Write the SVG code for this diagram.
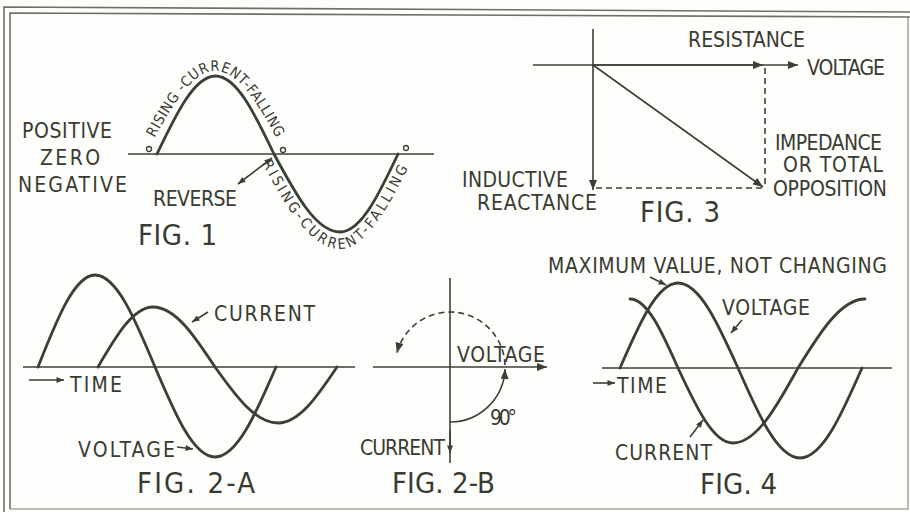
<svg xmlns="http://www.w3.org/2000/svg" width="910" height="512" viewBox="0 0 910 512">
<style>
.ln{stroke:#3c3f35;fill:none;stroke-width:1.6}
.w{stroke:#3c3f35;fill:none;stroke-width:2.8;stroke-linecap:round}
.d{stroke:#3c3f35;fill:none;stroke-width:1.6;stroke-dasharray:6,4}
.fr{stroke:#6e7065;fill:none;stroke-width:1.6}
text{font-family:'DejaVu Sans Condensed','DejaVu Sans',sans-serif;font-stretch:condensed;fill:#383b30;font-size:21px}
.fig{font-size:29px}
.cv{font-size:14.5px}
</style>
<defs>
<marker id="ah" viewBox="0 0 10 8" refX="10" refY="4" markerWidth="11" markerHeight="8" markerUnits="userSpaceOnUse" orient="auto-start-reverse"><path d="M0,0 L10,4 L0,8 Z" fill="#3c3f35"/></marker>
<marker id="as" viewBox="0 0 10 8" refX="10" refY="4" markerWidth="8" markerHeight="6" markerUnits="userSpaceOnUse" orient="auto-start-reverse"><path d="M0,0 L10,4 L0,8 Z" fill="#3c3f35"/></marker>
<path id="tp1" d="M146,154 C168.7,111.5 190.3,71 215.5,71 C240.7,71 262.3,111.5 285,154"/>
<path id="tp2" d="M257,154 C283.7,203 309.3,249 340,249 C366.8,249 390.9,203 415,154"/>
</defs>
<rect width="910" height="512" fill="#fdfdfc"/>
<g id="frame">
<path class="fr" d="M4,512 L4,7 L910,12"/>
<path class="fr" d="M10,509 L10,13 L910,17"/>
<path class="fr" d="M10,509 L908,509 L908,17" stroke-opacity="0.6"/>
</g>

<g id="fig1">
<line class="ln" x1="128" y1="154" x2="434" y2="154"/>
<path class="w" d="M157,154 C176.1,114 194.3,76 215.5,76 C236.7,76 254.9,114 274,154 C295.5,194 316.1,232 340,232 C361,232 379.1,194 398,154"/>
<circle cx="149" cy="149" r="2.5" fill="#fff" stroke="#3c3f35" stroke-width="1.3"/>
<circle cx="283" cy="150" r="2.5" fill="#fff" stroke="#3c3f35" stroke-width="1.3"/>
<circle cx="406" cy="148" r="2.5" fill="#fff" stroke="#3c3f35" stroke-width="1.3"/>
<text class="cv"><textPath href="#tp1" startOffset="50%" text-anchor="middle" textLength="188" lengthAdjust="spacing">RISING -CURRENT-FALLING</textPath></text>
<text class="cv"><textPath href="#tp2" startOffset="49%" text-anchor="middle" textLength="230" lengthAdjust="spacing">RISING-CURRENT-FALLING</textPath></text>
<text x="22" y="138" textLength="90" font-size="22">POSITIVE</text>
<text x="40" y="165" textLength="60" font-size="22">ZERO</text>
<text x="18" y="192" textLength="109" font-size="22">NEGATIVE</text>
<text x="153" y="206" textLength="84">REVERSE</text>
<text class="fig" x="138" y="245" textLength="79">FIG. 1</text>
</g>

<g id="fig2a">
<line class="ln" x1="23" y1="367" x2="355" y2="367"/>
<path class="w" d="M38,367 C56.6,319.9 74.4,275 95,275 C116.7,275 135.4,319.9 155,367 C174.6,413.1 193.3,457 215,457 C237.1,457 256.1,413.1 276,367"/>
<path class="w" d="M98,367 C115.9,336.3 133.1,307 153,307 C175.4,307 194.8,336.3 215,367 C235.5,395.7 255.2,423 278,423 C299.4,423 317.8,395.7 337,367"/>
<text x="214" y="321" textLength="101">CURRENT</text>
<text x="70" y="392" textLength="52">TIME</text>
<text x="78" y="457" textLength="97">VOLTAGE</text>
<text class="fig" x="137" y="493" textLength="118">FIG. 2-A</text>
</g>

<g id="fig2b">
<line class="ln" x1="373" y1="367" x2="547" y2="367" marker-end="url(#ah)"/>
<line class="ln" x1="450" y1="278" x2="450" y2="463"/>
<text x="457" y="362" textLength="88" font-size="20">VOLTAGE</text>
<text x="490" y="425" textLength="27" font-size="20">90°</text>
<text x="360" y="455" textLength="85" font-size="20">CURRENT</text>
<text class="fig" x="392" y="493" textLength="103">FIG. 2-B</text>
</g>

<g id="fig3">
<line class="ln" x1="593" y1="29" x2="593" y2="190" marker-end="url(#ah)"/>
<line class="ln" x1="533" y1="65" x2="798" y2="65" marker-end="url(#ah)"/>
<text x="688" y="47" textLength="117">RESISTANCE</text>
<text x="807" y="75" textLength="78">VOLTAGE</text>
<text x="775" y="150" textLength="107">IMPEDANCE</text>
<text x="783" y="172" textLength="100">OR TOTAL</text>
<text x="773" y="196" textLength="114">OPPOSITION</text>
<text x="462" y="187" textLength="106">INDUCTIVE</text>
<text x="477" y="210" textLength="120">REACTANCE</text>
<text class="fig" x="640" y="222" textLength="80">FIG. 3</text>
</g>

<g id="fig4">
<line class="ln" x1="602" y1="368" x2="892" y2="368"/>
<path class="w" stroke-width="3.2" d="M620,368 C638.9,324.5 657,283 678,283 C699.7,283 718.4,324.5 738,368 C758.2,414.1 777.6,458 800,458 C822.4,458 841.8,414.1 862,368"/>
<path class="w" d="M630,299 C647.4,299 662.3,332.7 678,368 C695.9,406.4 713.1,443 733,443 C756.5,443 776.8,406.4 798,368 C819.8,332.7 840.8,299 865,299"/>
<text x="548" y="273" textLength="339">MAXIMUM VALUE, NOT CHANGING</text>
<text x="722" y="315" textLength="88">VOLTAGE</text>
<text x="615" y="460" textLength="97">CURRENT</text>
<text x="617" y="393" textLength="50">TIME</text>
<text class="fig" x="700" y="494" textLength="77">FIG. 4</text>
</g>

<g id="connectors">
<line class="ln" x1="238" y1="184" x2="272" y2="158" marker-start="url(#as)" marker-end="url(#as)"/>
<line class="ln" x1="208" y1="312" x2="192" y2="322" marker-end="url(#as)"/>
<line class="ln" x1="29" y1="380" x2="64" y2="380" marker-end="url(#as)"/>
<line class="ln" x1="177" y1="447" x2="193" y2="449" marker-end="url(#as)"/>
<path class="d" d="M505,365 A55,55 0 0 0 396.9,352.8" marker-end="url(#ah)"/>
<path class="ln" d="M450,422 A55,55 0 0 0 505,369" marker-end="url(#ah)"/>
<line class="ln" x1="450" y1="430" x2="450" y2="453" marker-end="url(#as)"/>
<line class="ln" x1="593" y1="65" x2="763" y2="65" marker-end="url(#ah)"/>
<line class="ln" x1="593" y1="65" x2="763" y2="187" marker-end="url(#ah)"/>
<line class="d" x1="765" y1="68" x2="765" y2="188"/>
<line class="d" x1="596" y1="188" x2="763" y2="188"/>
<line class="ln" x1="650" y1="277" x2="666" y2="285" marker-end="url(#as)"/>
<line class="ln" x1="742" y1="320" x2="731" y2="333" marker-end="url(#as)"/>
<line class="ln" x1="690" y1="437" x2="703" y2="420" marker-end="url(#as)"/>
<line class="ln" x1="593" y1="383" x2="615" y2="383" marker-end="url(#as)"/>
</g>
</svg>
